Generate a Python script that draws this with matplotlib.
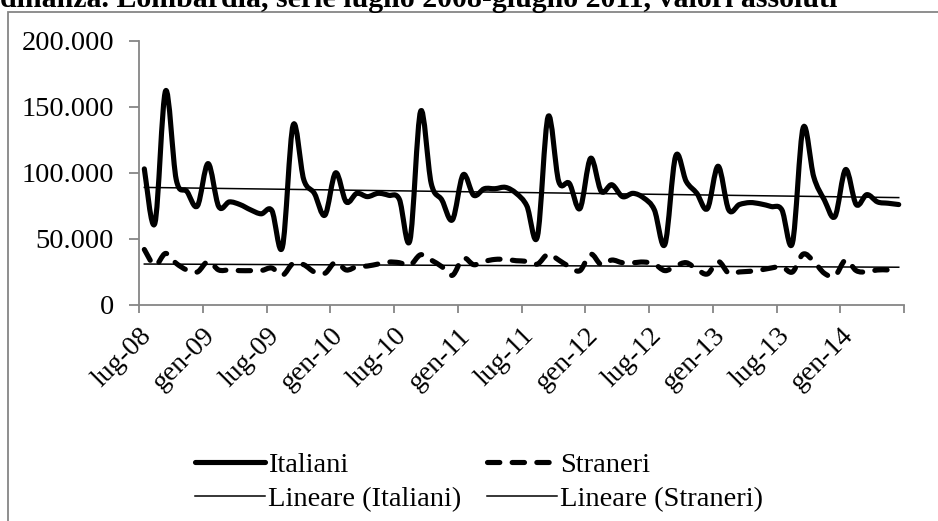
import numpy as np
import matplotlib
matplotlib.use("Agg")
import matplotlib.pyplot as plt
from matplotlib.path import Path
from matplotlib.patches import PathPatch, Rectangle
from matplotlib.lines import Line2D
from matplotlib.ticker import FuncFormatter

# Monthly series, July 2008 - June 2014
tick_labels = ['lug-08', 'gen-09', 'lug-09', 'gen-10', 'lug-10', 'gen-11',
               'lug-11', 'gen-12', 'lug-12', 'gen-13', 'lug-13', 'gen-14']

italiani = [103000, 62000, 162000, 95000, 86000, 75000, 107000, 74500, 78000, 76000, 72000, 69000,
            71500, 44000, 136000, 95000, 84500, 68000, 100000, 78000, 84500, 82000, 84500, 83000,
            80000, 49000, 146500, 92000, 79500, 64500, 98500, 83000, 88000, 88000, 89000, 84500,
            75000, 52000, 142500, 93500, 92000, 73000, 111000, 86000, 91000, 82000, 84500, 81000,
            72000, 46000, 112500, 93500, 84500, 73000, 105000, 72000, 76000, 77500, 76500, 74500,
            72000, 47000, 134000, 97000, 79500, 67000, 102500, 76000, 83500, 78000, 77000, 76000]

stranieri = [42000, 30000, 39000, 31500, 26500, 25000, 33000, 26500, 26500, 26000, 26000, 26000,
             28000, 22500, 31500, 30500, 25000, 24000, 32500, 26500, 29000, 29500, 31000, 32500,
             32000, 30000, 38000, 34000, 29000, 22500, 35500, 30500, 33000, 34500, 34500, 33500,
             33000, 31000, 38500, 34000, 29000, 26000, 38500, 30500, 34000, 32000, 32000, 32500,
             31000, 26000, 29500, 32000, 27000, 23500, 33000, 24000, 25000, 25500, 26500, 28000,
             29000, 25000, 38500, 33000, 24000, 22000, 34000, 26000, 25000, 26500, 26500, 26000]

title = "dinanza. Lombardia, serie luglio 2008-giugno 2011, valori assoluti"


def smooth_path(x, y):
    """Smoothed line through the points (cubic Bezier, Catmull-Rom style)."""
    pts = np.column_stack([x, y]).astype(float)
    n = len(pts)
    verts = [pts[0]]
    codes = [Path.MOVETO]
    for k in range(n - 1):
        p0 = pts[k - 1] if k > 0 else pts[k]
        p1 = pts[k]
        p2 = pts[k + 1]
        p3 = pts[k + 2] if k + 2 < n else pts[k + 1]
        verts += [p1 + (p2 - p0) / 6, p2 - (p3 - p1) / 6, p2]
        codes += [Path.CURVE4] * 3
    return Path(verts, codes)


plt.rcParams['font.family'] = ['Liberation Serif', 'DejaVu Serif']
grey = '#868686'

fig = plt.figure(figsize=(9.38, 5.21), dpi=100)
ax = fig.add_axes([0.1482, 0.4146, 0.8156, 0.5073])

x = np.arange(len(italiani)) + 0.5

ita_style = dict(fill=False, edgecolor='black', lw=3.7, capstyle='round', joinstyle='round')
ax.add_patch(PathPatch(smooth_path(x, italiani), **ita_style))
ax.add_patch(PathPatch(smooth_path(x, stranieri), linestyle=(0, (2.4, 2.4)), **ita_style))

# linear trend lines
for serie in (italiani, stranieri):
    m, q = np.polyfit(x, serie, 1)
    ax.plot([x[0], x[-1]], [m * x[0] + q, m * x[-1] + q], color='black', lw=1.1)

ax.set_xlim(0, 72)
ax.set_ylim(0, 200000)
ax.set_xticks(np.arange(0, 73, 6))
ax.set_xticklabels(tick_labels + [''], rotation=45, ha='right', rotation_mode='anchor')
ax.set_yticks(np.arange(0, 200001, 50000))
ax.yaxis.set_major_formatter(FuncFormatter(lambda v, p: f"{int(v):,}".replace(',', '.')))

for s in ('top', 'right'):
    ax.spines[s].set_visible(False)
for s in ('left', 'bottom'):
    ax.spines[s].set_color(grey)
    ax.spines[s].set_linewidth(1.3)
ax.tick_params(axis='y', direction='out', length=7, width=1.3, color=grey, pad=11, labelsize=20.5)
ax.tick_params(axis='x', direction='out', length=6, width=1.3, color=grey, pad=7, labelsize=20)

handles = [Line2D([], [], color='black', lw=3.7, solid_capstyle='round'),
           Line2D([], [], color='black', lw=1.1),
           Line2D([], [], color='black', lw=3.7, linestyle=(0, (2.4, 2.4)), dash_capstyle='round'),
           Line2D([], [], color='black', lw=1.1)]
labels = ['Italiani', 'Lineare (Italiani)', 'Straneri', 'Lineare (Straneri)']
fig.legend(handles, labels, ncol=2, frameon=False, fontsize=20.5,
           loc='center left', bbox_to_anchor=(0.208, 0.075),
           handlelength=2.45, handletextpad=0.12, columnspacing=0.9, labelspacing=0.3,
           borderaxespad=0, borderpad=0)

# chart area border and the caption line above it
fig.patches.append(Rectangle((8 / 938, -0.1), 1.2, 1 - 12 / 521 + 0.1,
                             transform=fig.transFigure, fill=False,
                             edgecolor=grey, lw=1.3))
fig.text(0.0, 1 - 7 / 521, title, fontsize=21.5, fontweight='bold', va='baseline', ha='left')

fig.savefig('out.png', dpi=100)
